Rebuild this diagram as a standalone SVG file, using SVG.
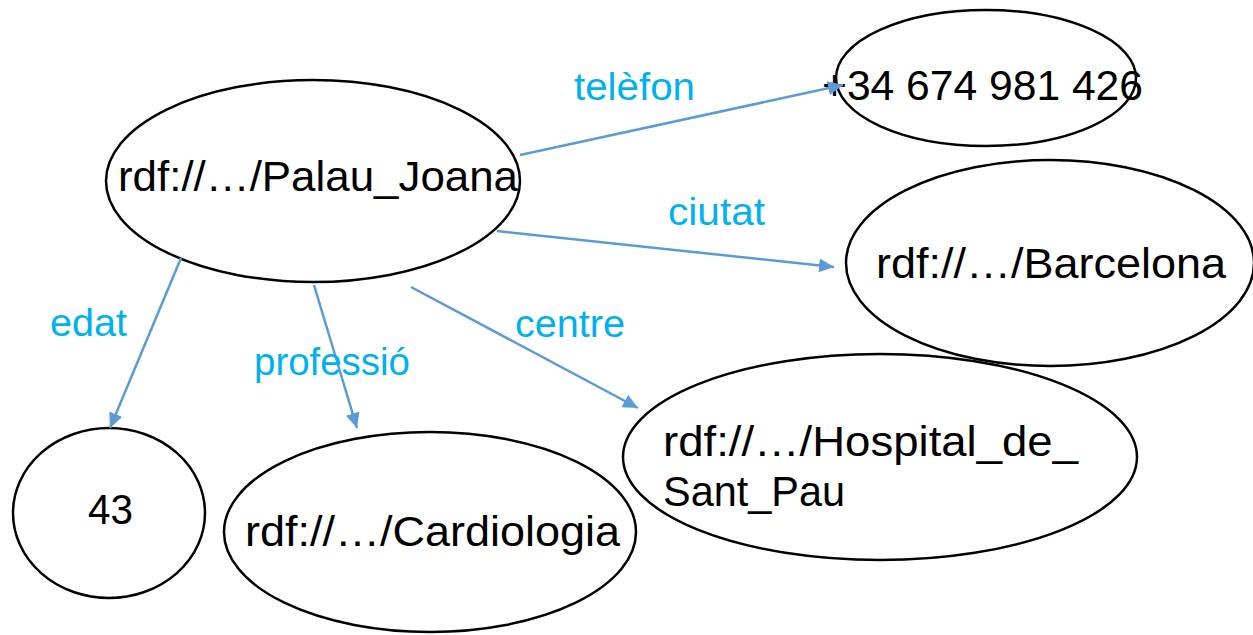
<svg xmlns="http://www.w3.org/2000/svg" width="1253" height="635" viewBox="0 0 1253 635">
<style>
.node ellipse{fill:#fff;stroke:#000;stroke-width:2.5}
.node text{font-family:"Liberation Sans",Arial,sans-serif;font-size:42px;fill:#000}
.lbl{font-family:"Liberation Sans",Arial,sans-serif;font-size:38px;fill:#00B0F0}
.edge{stroke:#5B9BD5;stroke-width:2.5;fill:none;marker-end:url(#ah)}
</style>
<defs>
<marker id="ah" markerUnits="userSpaceOnUse" markerWidth="16" markerHeight="14" refX="15" refY="7" orient="auto">
<path d="M0,0 L15,7 L0,14 z" fill="#5B9BD5"/>
</marker>
</defs>
<rect width="1253" height="635" fill="#fff"/>
<g id="n-palau" class="node"><ellipse cx="313" cy="181" rx="207" ry="101"/><text x="118" y="191" textLength="400" lengthAdjust="spacingAndGlyphs">rdf://…/Palau_Joana</text></g>
<g id="n-tel" class="node"><ellipse cx="986" cy="78" rx="150" ry="68"/><text x="822" y="100" textLength="321" lengthAdjust="spacingAndGlyphs">+34 674 981 426</text></g>
<g id="n-bcn" class="node"><ellipse cx="1050" cy="263" rx="204" ry="103"/><text x="876" y="278" textLength="350" lengthAdjust="spacingAndGlyphs">rdf://…/Barcelona</text></g>
<g id="n-hosp" class="node"><ellipse cx="880" cy="457" rx="257" ry="103"/><text x="663" y="456" textLength="415" lengthAdjust="spacingAndGlyphs">rdf://…/Hospital_de_</text><text x="663" y="506" textLength="182" lengthAdjust="spacingAndGlyphs">Sant_Pau</text></g>
<g id="n-43" class="node"><ellipse cx="109" cy="513" rx="96" ry="85"/><text x="88" y="524" textLength="45" lengthAdjust="spacingAndGlyphs">43</text></g>
<g id="n-card" class="node"><ellipse cx="430" cy="532" rx="206" ry="100"/><text x="245" y="546" textLength="375" lengthAdjust="spacingAndGlyphs">rdf://…/Cardiologia</text></g>
<g id="connectors">
<line class="edge" x1="520" y1="155" x2="843" y2="85"/>
<line class="edge" x1="497" y1="231" x2="834" y2="267"/>
<line class="edge" x1="181" y1="258" x2="110" y2="428"/>
<line class="edge" x1="314" y1="285" x2="357" y2="428"/>
<line class="edge" x1="411" y1="287" x2="638" y2="408"/>
<text class="lbl" x="574" y="100" textLength="121" lengthAdjust="spacingAndGlyphs">telèfon</text>
<text class="lbl" x="668" y="225" textLength="97" lengthAdjust="spacingAndGlyphs">ciutat</text>
<text class="lbl" x="50" y="336" textLength="77" lengthAdjust="spacingAndGlyphs">edat</text>
<text class="lbl" x="254" y="375" textLength="156" lengthAdjust="spacingAndGlyphs">professió</text>
<text class="lbl" x="515" y="337" textLength="110" lengthAdjust="spacingAndGlyphs">centre</text>
</g>
</svg>
